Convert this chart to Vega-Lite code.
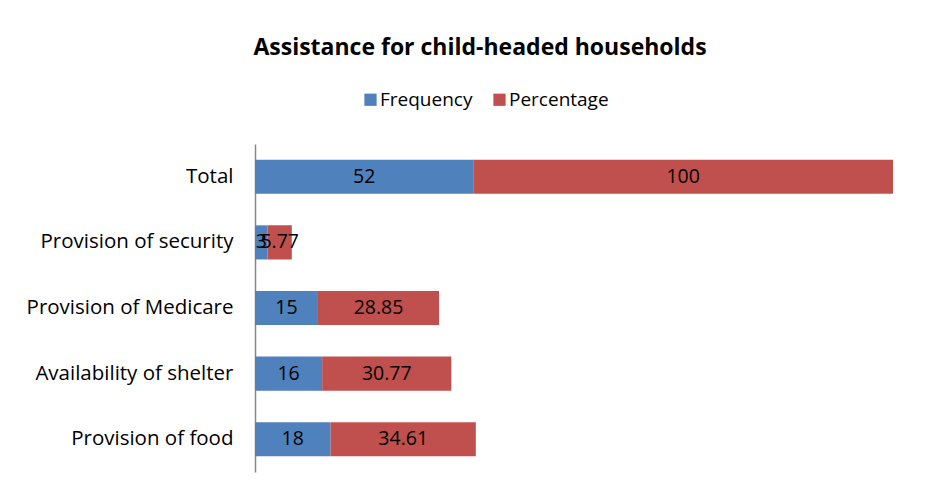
{
  "$schema": "https://vega.github.io/schema/vega-lite/v6.json",
  "width": 638,
  "height": 328,
  "autosize": {"type": "none"},
  "padding": {"left": 255, "top": 144, "right": 48, "bottom": 22},
  "background": "white",
  "config": {"view": {"stroke": null}},
  "title": {
    "text": "Assistance for child-headed households",
    "font": "Open Sans",
    "fontSize": 23,
    "fontWeight": "bold",
    "color": "black",
    "anchor": "middle",
    "dx": -94,
    "offset": 30
  },
  "data": {
    "values": [
      {"category": "Total", "series": "Frequency", "k": 1, "value": 52},
      {"category": "Total", "series": "Percentage", "k": 2, "value": 100},
      {"category": "Provision of security", "series": "Frequency", "k": 1, "value": 3},
      {"category": "Provision of security", "series": "Percentage", "k": 2, "value": 5.77},
      {"category": "Provision of Medicare", "series": "Frequency", "k": 1, "value": 15},
      {"category": "Provision of Medicare", "series": "Percentage", "k": 2, "value": 28.85},
      {"category": "Availability of shelter", "series": "Frequency", "k": 1, "value": 16},
      {"category": "Availability of shelter", "series": "Percentage", "k": 2, "value": 30.77},
      {"category": "Provision of food", "series": "Frequency", "k": 1, "value": 18},
      {"category": "Provision of food", "series": "Percentage", "k": 2, "value": 34.61}
    ]
  },
  "transform": [
    {"stack": "value", "groupby": ["category"], "sort": [{"field": "k"}], "as": ["v0", "v1"]},
    {"calculate": "(datum.v0 + datum.v1) / 2", "as": "mid"}
  ],
  "encoding": {
    "y": {
      "field": "category",
      "type": "nominal",
      "sort": ["Total", "Provision of security", "Provision of Medicare", "Availability of shelter", "Provision of food"],
      "scale": {"paddingInner": 0.48, "paddingOuter": 0.24},
      "axis": {
        "title": null,
        "ticks": false,
        "labelPadding": 22,
        "labelLimit": 400,
        "labelFont": "Open Sans",
        "labelFontSize": 20.5,
        "labelColor": "black",
        "domainColor": "#868686",
        "domainWidth": 1.5,
        "grid": false
      }
    }
  },
  "layer": [
    {
      "mark": {"type": "bar"},
      "encoding": {
        "x": {"field": "v0", "type": "quantitative", "scale": {"domain": [0, 152], "nice": false}, "axis": null},
        "x2": {"field": "v1"},
        "color": {
          "field": "series",
          "type": "nominal",
          "scale": {"domain": ["Frequency", "Percentage"], "range": ["#4F81BD", "#C0504D"]},
          "legend": {
            "title": null,
            "orient": "none",
            "direction": "horizontal",
            "legendX": 106,
            "legendY": -54,
            "symbolType": "square",
            "symbolSize": 150,
            "symbolStrokeWidth": 0,
            "labelFont": "Open Sans",
            "labelFontSize": 19,
            "labelColor": "black",
            "columnPadding": 17,
            "labelOffset": 0
          }
        }
      }
    },
    {
      "mark": {"type": "text", "font": "Open Sans", "fontSize": 19.5, "color": "black", "baseline": "middle", "align": "center"},
      "encoding": {
        "x": {"field": "mid", "type": "quantitative"},
        "text": {"field": "value", "type": "quantitative", "format": ""}
      }
    }
  ]
}
